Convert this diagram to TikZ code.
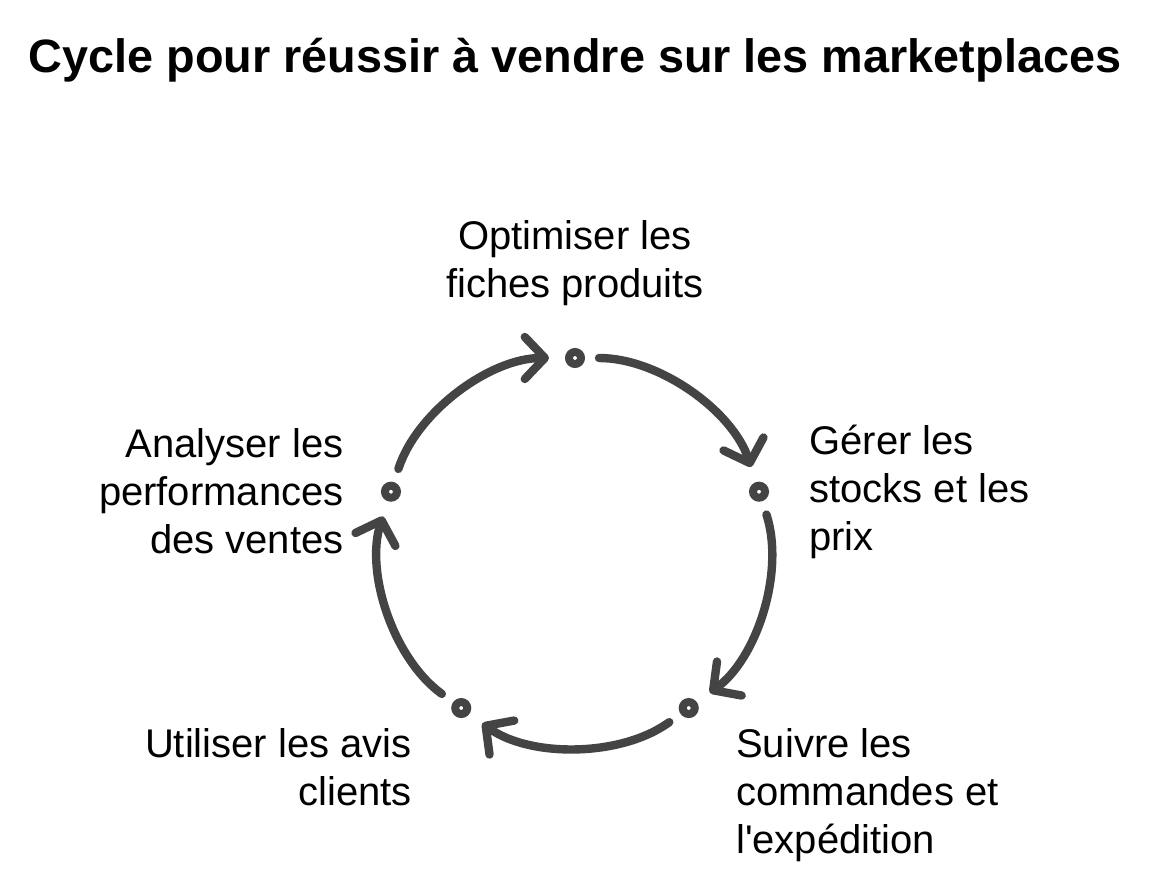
\documentclass[tikz,border=0pt]{standalone}
\usepackage{fontspec}
\setmainfont{Liberation Sans}
\usepackage{xcolor}
\usepackage{tikz}
\usetikzlibrary{positioning, arrows.meta}

\definecolor{cyclegray}{HTML}{444444}

\begin{document}
\begin{tikzpicture}[x=0.5pt, y=0.5pt,
    dot/.style={draw=cyclegray, circle, line width=4pt, inner sep=0pt, minimum size=6pt},
    step label/.style={font=\fontsize{20}{24}\selectfont, inner sep=0pt},
    cycle arrow/.style={draw=cyclegray, line width=4.2pt, line cap=round,
        -{Straight Barb[length=10pt, width=21pt, round]},
        bend left=36, looseness=0.9, shorten <=7pt, shorten >=8pt}]
          \useasboundingbox (-575,-336.5) rectangle (577,551.5);

          \node[font=\fontsize{23.4}{28}\bfseries] (title) at (0, 491.5) {Cycle pour réussir à vendre sur les marketplaces};

          \node[dot] (d1) at (90:193.5) {};
          \node[dot] (d2) at (18:193.5) {};
          \node[dot] (d3) at (-54:193.5) {};
          \node[dot] (d4) at (-126:193.5) {};
          \node[dot] (d5) at (162:193.5) {};

          \draw[cycle arrow] (d1) to (d2);
          \draw[cycle arrow] (d2) to (d3);
          \draw[cycle arrow] (d3) to (d4);
          \draw[cycle arrow] (d4) to (d5);
          \draw[cycle arrow] (d5) to (d1);

          \node[step label, align=center, above=21pt of d1] (l1) {Optimiser les\\fiches produits};
          \node[step label, align=left, right=20pt of d2] (l2) {Gérer les\\stocks et les\\prix};
          \node[step label, align=left, below right=6.5pt and 20pt of d3] (l3) {Suivre les\\commandes et\\l\textquotesingle expédition};
          \node[step label, align=right, below left=6.5pt and 21pt of d4] (l4) {Utiliser les avis\\clients};
          \node[step label, align=right, left=18.5pt of d5] (l5) {Analyser les\\performances\\des ventes};
        \end{tikzpicture}
\end{document}
